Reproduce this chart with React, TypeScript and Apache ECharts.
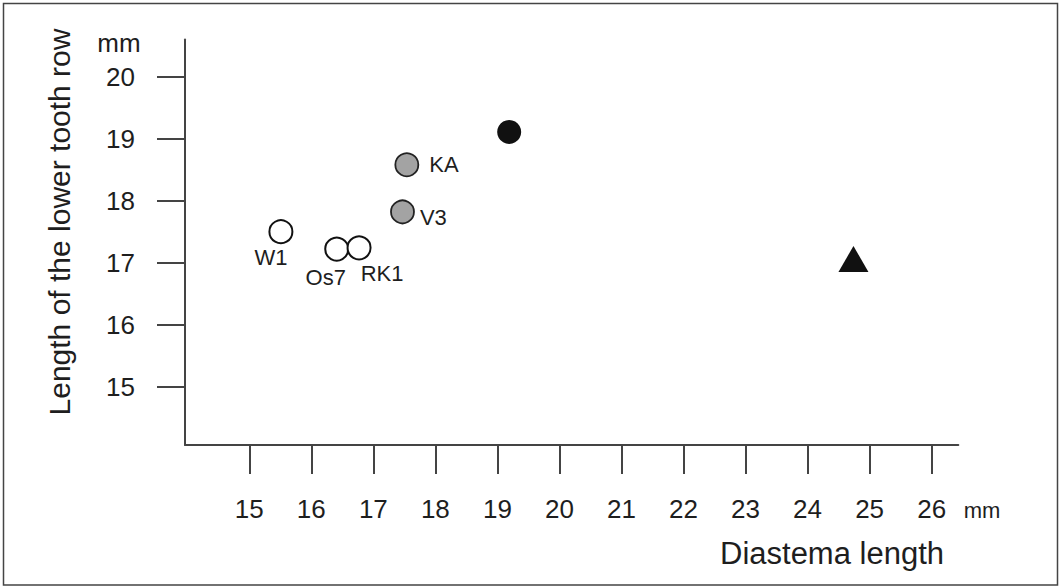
import React, { useEffect, useRef } from "react";
import * as echarts from "echarts";

// ---- data ----
const xTicks = [15, 16, 17, 18, 19, 20, 21, 22, 23, 24, 25, 26];
const yTicks = [15, 16, 17, 18, 19, 20];

const openNames = ["W1", "Os7", "RK1"];
const openX = [15.51, 16.41, 16.77];
const openY = [17.5, 17.22, 17.24];

const grayNames = ["V3", "KA"];
const grayX = [17.47, 17.54];
const grayY = [17.82, 18.58];

const blackX = [19.19];
const blackY = [19.11];

const triangleX = [24.74];
const triangleY = [17.06];

const FONT = "'Liberation Sans', Arial, Helvetica, sans-serif";
const TEXT = "#1e1e1e";
const AXIS = "#444";

const labelLayout: Record<string, any> = {
  W1: { position: "bottom", distance: 2, offset: [-10, 0] },
  Os7: { position: "bottom", distance: 5, offset: [-11, 0] },
  RK1: { position: "bottom", distance: 2, offset: [23, 0] },
  V3: { position: "right", distance: 5, offset: [0, 6] },
  KA: { position: "right", distance: 10, offset: [0, 0] },
};

function labeled(names: string[], xs: number[], ys: number[]) {
  return names.map((n, i) => ({
    name: n,
    value: [xs[i], ys[i]],
    label: {
      show: true,
      formatter: n,
      fontSize: 22,
      color: TEXT,
      fontFamily: FONT,
      ...labelLayout[n],
    },
  }));
}

export default function App() {
  const ref = useRef<HTMLDivElement>(null);

  useEffect(() => {
    if (!ref.current) return;
    const chart = echarts.init(ref.current, null, { renderer: "svg" });
    const axisLineStyle = { color: AXIS, width: 2 };
    chart.setOption({
      animation: false,
      backgroundColor: "#fff",
      grid: { left: 185, top: 39.5, width: 773.3, height: 405.5 },
      xAxis: {
        type: "value",
        min: 13.964,
        max: 26.43,
        axisLine: { show: true, onZero: false, lineStyle: axisLineStyle },
        axisTick: {
          show: true,
          inside: false,
          length: 29,
          lineStyle: axisLineStyle,
          customValues: xTicks,
        },
        axisLabel: {
          show: true,
          customValues: xTicks,
          margin: 51,
          fontSize: 26,
          color: TEXT,
          fontFamily: FONT,
        },
        splitLine: { show: false },
      },
      yAxis: {
        type: "value",
        min: 14.06,
        max: 20.6,
        axisLine: { show: true, onZero: false, lineStyle: axisLineStyle },
        axisTick: {
          show: true,
          inside: false,
          length: 28,
          lineStyle: axisLineStyle,
          customValues: yTicks,
        },
        axisLabel: {
          show: true,
          customValues: yTicks,
          margin: 50,
          fontSize: 26,
          color: TEXT,
          fontFamily: FONT,
        },
        splitLine: { show: false },
      },
      series: [
        {
          type: "scatter",
          symbol: "circle",
          symbolSize: 23,
          itemStyle: { color: "#fff", borderColor: "#111", borderWidth: 2, opacity: 1 },
          data: labeled(openNames, openX, openY),
          z: 3,
        },
        {
          type: "scatter",
          symbol: "circle",
          symbolSize: 23,
          itemStyle: { color: "#a3a3a3", borderColor: "#222", borderWidth: 1.8, opacity: 1 },
          data: labeled(grayNames, grayX, grayY),
        },
        {
          type: "scatter",
          symbol: "circle",
          symbolSize: 24,
          itemStyle: { color: "#111", opacity: 1 },
          data: blackX.map((x, i) => [x, blackY[i]]),
        },
        {
          type: "scatter",
          symbol: "triangle",
          symbolSize: [30, 26],
          itemStyle: { color: "#111", opacity: 1 },
          data: triangleX.map((x, i) => [x, triangleY[i]]),
        },
      ],
      graphic: [
        {
          type: "rect",
          shape: { x: 3.5, y: 3.5, width: 1054, height: 581.5 },
          style: { fill: "none", stroke: "#444", lineWidth: 1.5 },
          silent: true,
        },
        {
          type: "text",
          x: 119,
          y: 43,
          style: {
            text: "mm",
            fontSize: 26,
            fill: TEXT,
            fontFamily: FONT,
            align: "center",
            verticalAlign: "middle",
          },
        },
        {
          type: "text",
          x: 982,
          y: 510,
          style: {
            text: "mm",
            fontSize: 22,
            fill: TEXT,
            fontFamily: FONT,
            align: "center",
            verticalAlign: "middle",
          },
        },
        {
          type: "text",
          x: 832,
          y: 553,
          style: {
            text: "Diastema length",
            fontSize: 31,
            fill: TEXT,
            fontFamily: FONT,
            align: "center",
            verticalAlign: "middle",
          },
        },
        {
          type: "text",
          x: 59,
          y: 222,
          rotation: Math.PI / 2,
          style: {
            text: "Length of the lower tooth row",
            fontSize: 30,
            fill: TEXT,
            fontFamily: FONT,
            align: "center",
            verticalAlign: "middle",
          },
        },
      ],
    });
    return () => chart.dispose();
  }, []);

  return (
    <div
      ref={ref}
      style={{ position: "fixed", left: 0, top: 0, width: 1060, height: 587 }}
    />
  );
}
